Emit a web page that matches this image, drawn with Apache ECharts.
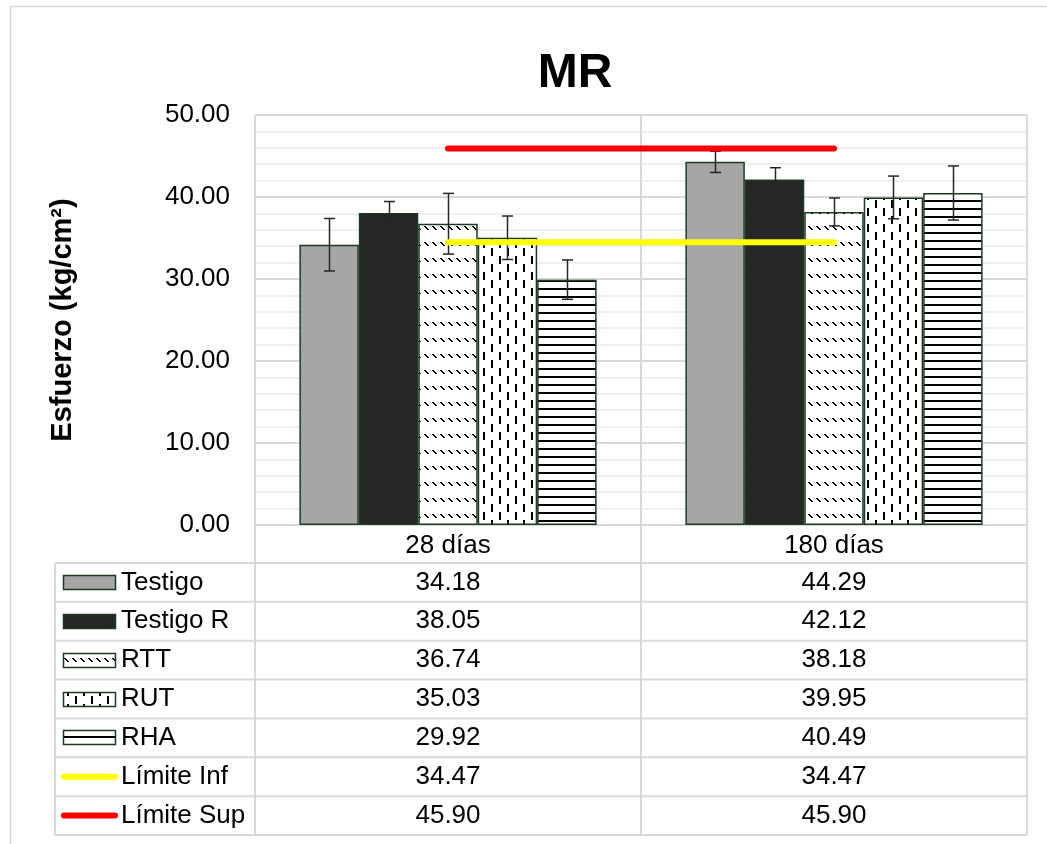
<!DOCTYPE html>
<html>
<head>
<meta charset="utf-8">
<title>MR</title>
<script src="https://cdn.jsdelivr.net/npm/echarts@6/dist/echarts.min.js"></script>
<style>
  html, body { margin: 0; padding: 0; background: #ffffff; }
  #chart { width: 1047px; height: 844px; }
</style>
</head>
<body>
<div id="chart"></div>
<script>
// ---- data ----
const categories = ['28 días', '180 días'];
const seriesNames = ['Testigo', 'Testigo R', 'RTT', 'RUT', 'RHA'];
const limitNames = ['Límite Inf', 'Límite Sup'];

const testigo  = [34.18, 44.29];
const testigoR = [38.05, 42.12];
const rtt      = [36.74, 38.18];
const rut      = [35.03, 39.95];
const rha      = [29.92, 40.49];
const limiteInf = [34.47, 34.47];
const limiteSup = [45.90, 45.90];

// standard deviation of each mean (error bars)
const errTestigo  = [3.2, 1.3];
const errTestigoR = [1.4, 1.45];
const errRtt      = [3.7, 1.7];
const errRut      = [2.65, 2.6];
const errRha      = [2.4, 3.3];

const yMin = 0, yMax = 50, yStep = 10;

// ---- layout ----
const PLOT = { left: 255, right: 1027, top: 115, bottom: 525 };
const TABLE = { left: 55, top: 563, rowH: 38.86 };
const FONT = '"Liberation Sans", Arial, sans-serif';
const GRID_GRAY = '#d9d9d9';
const EDGE = '#1b3b22';
const CAT_GAP = 0.23;

// ---- fill patterns ----
function makeTile(w, h, draw) {
  const c = document.createElement('canvas');
  c.width = w; c.height = h;
  const ctx = c.getContext('2d');
  ctx.fillStyle = '#ffffff';
  ctx.fillRect(0, 0, w, h);
  ctx.fillStyle = '#000000';
  draw(ctx);
  return { image: c, repeat: 'repeat' };
}
// short downward diagonal dashes in rows
const patRTT = makeTile(8, 16, ctx => {
  for (let i = 0; i < 4; i++) ctx.fillRect(i, 2 + i, 2, 1);
});
// staggered vertical dashes
const patRUT = makeTile(16, 16, ctx => {
  ctx.fillRect(3, 0, 2, 8);
  ctx.fillRect(11, 8, 2, 8);
});
// horizontal stripes
const patRHA = makeTile(4, 8, ctx => {
  ctx.fillRect(0, 0, 4, 2);
});

const seriesValues = [testigo, testigoR, rtt, rut, rha];
const seriesErrors = [errTestigo, errTestigoR, errRtt, errRut, errRha];
const seriesFills  = ['#a6a6a6', '#262626', patRTT, patRUT, patRHA];
const limitValues  = [limiteInf, limiteSup];
const limitColors  = ['#ffff00', '#ff0000'];

// ---- series ----
const barSeries = seriesNames.map((name, i) => ({
  name: name,
  type: 'bar',
  data: seriesValues[i],
  barGap: '0%',
  barCategoryGap: (CAT_GAP * 100) + '%',
  itemStyle: { color: seriesFills[i], borderColor: EDGE, borderWidth: 1.5 },
  z: 2
}));

const errData = [];
seriesValues.forEach((vals, s) => {
  vals.forEach((v, c) => errData.push([c, s, v, seriesErrors[s][c]]));
});

const errSeries = {
  type: 'custom',
  name: 'error',
  data: errData,
  encode: { x: 0, y: 2 },
  z: 3,
  silent: true,
  renderItem(params, api) {
    const c = api.value(0), s = api.value(1), v = api.value(2), e = api.value(3);
    const catW = api.size([1, 0])[0];
    const bw = catW * (1 - CAT_GAP) / seriesNames.length;
    const center = api.coord([c, 0])[0];
    const x = Math.round(center + (s - (seriesNames.length - 1) / 2) * bw) + 0.5;
    const yTop = api.coord([c, v + e])[1];
    const yBot = api.coord([c, v - e])[1];
    const cap = 5.5;
    const st = { stroke: '#262626', lineWidth: 1.5 };
    return {
      type: 'group',
      children: [
        { type: 'line', shape: { x1: x, y1: yTop, x2: x, y2: yBot }, style: st },
        { type: 'line', shape: { x1: x - cap, y1: yTop, x2: x + cap, y2: yTop }, style: st },
        { type: 'line', shape: { x1: x - cap, y1: yBot, x2: x + cap, y2: yBot }, style: st }
      ]
    };
  }
};

const limitSeries = limitNames.map((name, i) => ({
  name: name,
  type: 'line',
  data: limitValues[i],
  showSymbol: false,
  symbol: 'none',
  lineStyle: { color: limitColors[i], width: 6, cap: 'round' },
  z: 4,
  silent: true
}));

// ---- frame and data table ----
const graphics = [];
function hLine(x1, x2, y, color, w) {
  graphics.push({ type: 'line', z: 1, silent: true,
    shape: { x1: x1, y1: y, x2: x2, y2: y }, style: { stroke: color, lineWidth: w } });
}
function vLine(x, y1, y2, color, w) {
  graphics.push({ type: 'line', z: 1, silent: true,
    shape: { x1: x, y1: y1, x2: x, y2: y2 }, style: { stroke: color, lineWidth: w } });
}

// outer chart frame
hLine(10, 1047, 6.5, GRID_GRAY, 1.5);
vLine(10.5, 6, 844, GRID_GRAY, 1.5);

const rowLabels = seriesNames.concat(limitNames);
const nRows = rowLabels.length;
const tableBottom = TABLE.top + nRows * TABLE.rowH;
const colMid = (PLOT.left + PLOT.right) / 2;

// plot box and table rules
hLine(PLOT.left, PLOT.right, PLOT.bottom, GRID_GRAY, 2);
vLine(PLOT.left, PLOT.top, tableBottom, GRID_GRAY, 2);
vLine(PLOT.right, PLOT.top, tableBottom, GRID_GRAY, 2);
vLine(colMid, PLOT.bottom, tableBottom, GRID_GRAY, 2);
vLine(TABLE.left, TABLE.top, tableBottom, GRID_GRAY, 2);
for (let r = 0; r <= nRows; r++) {
  hLine(TABLE.left, PLOT.right, TABLE.top + r * TABLE.rowH, GRID_GRAY, 2);
}

const colCenters = categories.map((_, c) =>
  PLOT.left + (c + 0.5) * (PLOT.right - PLOT.left) / categories.length);
const rowValues = seriesValues.concat(limitValues);

rowLabels.forEach((label, r) => {
  const cy = TABLE.top + (r + 0.5) * TABLE.rowH;
  // legend key
  if (r < seriesNames.length) {
    graphics.push({ type: 'rect', z: 2, silent: true,
      shape: { x: 63.5, y: Math.round(cy - 7.5) + 0.5, width: 52, height: 14 },
      style: { fill: seriesFills[r], stroke: EDGE, lineWidth: 1.5 } });
  } else {
    graphics.push({ type: 'line', z: 2, silent: true,
      shape: { x1: 64, y1: cy, x2: 115, y2: cy },
      style: { stroke: limitColors[r - seriesNames.length], lineWidth: 6, lineCap: 'round' } });
  }
  graphics.push({ type: 'text', z: 2, silent: true,
    style: { x: 121, y: cy, text: label, font: '26px ' + FONT, fill: '#000000',
      verticalAlign: 'middle', align: 'left' } });
  rowValues[r].forEach((v, c) => {
    graphics.push({ type: 'text', z: 2, silent: true,
      style: { x: colCenters[c], y: cy, text: v.toFixed(2), font: '26px ' + FONT, fill: '#000000',
        verticalAlign: 'middle', align: 'center' } });
  });
});

// chart title
graphics.push({ type: 'text', z: 2, silent: true,
  style: { x: 575, y: 74, text: 'MR', font: 'bold 48px ' + FONT, fill: '#000000',
    align: 'center', verticalAlign: 'middle' } });

// ---- chart ----
const chart = echarts.init(document.getElementById('chart'), null, { renderer: 'canvas' });
chart.setOption({
  backgroundColor: '#ffffff',
  animation: false,
  grid: {
    left: PLOT.left, right: 1047 - PLOT.right,
    top: PLOT.top, bottom: 844 - PLOT.bottom,
    containLabel: false
  },
  xAxis: {
    type: 'category',
    data: categories,
    axisLine: { show: false },
    axisTick: { show: false },
    axisLabel: { fontSize: 26, fontFamily: FONT, color: '#000000', margin: 8 },
    splitLine: { show: true, lineStyle: { color: GRID_GRAY, width: 2 } }
  },
  yAxis: {
    type: 'value',
    min: yMin, max: yMax, interval: yStep,
    name: 'Esfuerzo (kg/cm²)',
    nameLocation: 'middle',
    nameRotate: 90,
    nameGap: 178,
    nameTextStyle: { fontSize: 29, fontWeight: 'bold', fontFamily: FONT, color: '#000000' },
    axisLine: { show: false },
    axisTick: { show: false },
    axisLabel: { fontSize: 26, fontFamily: FONT, color: '#000000', margin: 25,
      formatter: v => v.toFixed(2) },
    splitLine: { show: true, lineStyle: { color: GRID_GRAY, width: 2 } },
    minorTick: { show: false, splitNumber: 5 },
    minorSplitLine: { show: true, lineStyle: { color: '#ececec', width: 1.5 } }
  },
  series: barSeries.concat([errSeries], limitSeries),
  graphic: graphics
});
</script>
</body>
</html>
